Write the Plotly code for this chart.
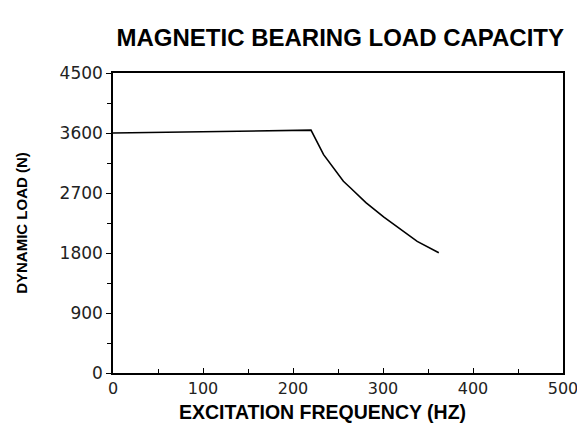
import plotly.graph_objects as go

# Données
freq_hz = [0, 100, 200, 220, 234, 245, 256, 264, 281, 301, 320, 338, 362]
load_n = [3600, 3615, 3635, 3643, 3275, 3075, 2875, 2775, 2555, 2337, 2144, 1974, 1804]

x_ticks = [0, 100, 200, 300, 400, 500]
y_ticks = [0, 900, 1800, 2700, 3600, 4500]

fig = go.Figure()

fig.add_trace(go.Scatter(
    x=freq_hz,
    y=load_n,
    mode="lines",
    line=dict(color="black", width=1.6),
    showlegend=False
))

# la page ajoute une marge de 8 px autour du graphique
fig.update_layout(
    width=585,
    height=418,
    title=dict(
        text="<b>MAGNETIC BEARING LOAD CAPACITY</b>",
        x=0.505, xref="paper", xanchor="center",
        y=1 - 30 / 418, yref="container", yanchor="middle",
        font=dict(family="Arial, Liberation Sans, sans-serif", size=24, color="black")
    ),
    font=dict(family="DejaVu Sans, sans-serif", size=16, color="black"),
    paper_bgcolor="white",
    plot_bgcolor="white",
    margin=dict(l=105, r=30, t=65, b=53, autoexpand=False),
    annotations=[dict(
        text="<b>EXCITATION FREQUENCY (HZ)</b>",
        xref="paper", yref="paper", x=0.465, y=0, yshift=-39,
        xanchor="center", yanchor="middle", showarrow=False,
        font=dict(family="Arial, Liberation Sans, sans-serif", size=19.5, color="black")
    )]
)

fig.update_xaxes(
    range=[0, 500],
    tickvals=x_ticks,
    automargin=False,
    ticks="inside", ticklen=5, tickwidth=1.2, tickcolor="black",
    minor=dict(dtick=50, ticks="inside", ticklen=4, tickcolor="black"),
    showline=True, linecolor="black", linewidth=1.5, mirror=True,
    showgrid=False, zeroline=False,
    tickfont=dict(family="DejaVu Sans, sans-serif", size=16, color="#222")
)

fig.update_yaxes(
    range=[0, 4500],
    tickvals=y_ticks,
    automargin=False,
    ticks="outside", ticklen=5, tickwidth=1.2, tickcolor="black",
    minor=dict(dtick=450, ticks="outside", ticklen=4, tickcolor="black"),
    showline=True, linecolor="black", linewidth=1.5, mirror=True,
    showgrid=False, zeroline=False,
    tickfont=dict(family="DejaVu Sans, sans-serif", size=17, color="#222"),
    title=dict(text="<b>DYNAMIC LOAD (N)</b>",
               font=dict(family="Arial, Liberation Sans, sans-serif", size=15),
               standoff=28)
)

fig.write_html("out.html")
